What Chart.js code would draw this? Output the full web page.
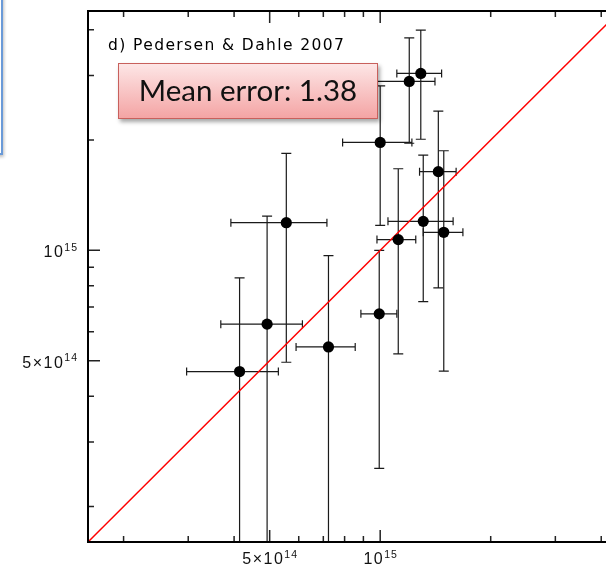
<!DOCTYPE html>
<html>
<head>
<meta charset="utf-8">
<script src="https://cdn.jsdelivr.net/npm/chart.js@4.4.1/dist/chart.umd.min.js"></script>
<style>
  html, body { margin: 0; padding: 0; background: #fff; overflow: hidden; }
  #wrap { position: relative; width: 606px; height: 568px; overflow: hidden; }
  #c { position: absolute; left: 0; top: 0; }
  #bluebox { position: absolute; left: -61px; top: -10px; width: 60px; height: 161px;
    border: 2px solid #6a9ad8; background: #fff; box-shadow: 1px 2px 3px rgba(0,0,0,0.25); }
  #title { position: absolute; left: 108px; top: 36px; font-family: "DejaVu Sans", sans-serif;
    font-size: 15.5px; line-height: 18px; letter-spacing: 1.4px; color: #000; white-space: nowrap; }
  #callout { position: absolute; left: 118px; top: 63px; width: 260px; height: 56px; box-sizing: border-box;
    border: 1.5px solid #c8605c; background: linear-gradient(#fde6e6, #f4a4a4);
    box-shadow: 2px 3px 4px rgba(0,0,0,0.35);
    font-family: "Lato", "Open Sans", sans-serif; font-size: 29.5px; color: #111;
    text-align: center; line-height: 52px; white-space: nowrap; }
</style>
</head>
<body>
<div id="wrap">
  <canvas id="c" width="640" height="568"></canvas>
  <div id="bluebox"></div>
  <div id="title">d) Pedersen &amp; Dahle 2007</div>
  <div id="callout">Mean error: 1.38</div>
</div>
<script>
// ---- data ----
const axisMin = 1.6e14;
const axisMax = 4.5e15;
const tickValues = [2e14, 3e14, 4e14, 5e14, 6e14, 7e14, 8e14, 9e14, 1e15, 2e15, 3e15, 4e15];
const tickLabelValues = [5e14, 1e15];
const tickLabelBase = ['5×10', '10'];
const tickLabelExp = ['14', '15'];

const xVal = [4.14e14, 4.92e14, 5.55e14, 7.23e14, 1.29e15, 1.20e15, 1.00e15, 1.44e15, 1.31e15, 1.49e15, 1.12e15, 9.94e14];
const xLo  = [2.97e14, 3.68e14, 3.92e14, 5.90e14, 1.11e15, 9.40e14, 7.90e14, 1.28e15, 1.05e15, 1.31e15, 9.80e14, 8.86e14];
const xHi  = [5.28e14, 6.14e14, 7.16e14, 8.55e14, 1.47e15, 1.41e15, 1.22e15, 1.61e15, 1.58e15, 1.68e15, 1.25e15, 1.11e15];
const yVal = [4.67e14, 6.29e14, 1.19e15, 5.45e14, 3.04e15, 2.89e15, 1.97e15, 1.64e15, 1.20e15, 1.12e15, 1.07e15, 6.71e14];
const yLo  = [1.2e14, 1.2e14, 4.95e14, 1.2e14, 2.01e15, 1.96e15, 1.17e15, 7.90e14, 7.25e14, 4.68e14, 5.22e14, 2.54e14];
const yHi  = [8.41e14, 1.24e15, 1.84e15, 9.67e14, 3.99e15, 3.80e15, 2.81e15, 2.40e15, 1.82e15, 1.87e15, 1.67e15, 1.00e15];

const points = xVal.map((v, i) => ({ x: v, y: yVal[i] }));
const oneToOne = [{ x: axisMin, y: axisMin }, { x: axisMax, y: axisMax }];

function labelIndex(v) {
  return tickLabelValues.findIndex(t => Math.abs(t - v) / t < 1e-9);
}

const BASE_FONT = '16px "Liberation Sans", Arial, sans-serif';
const SUP_FONT = '10.5px "Liberation Sans", Arial, sans-serif';
const BASE_SP = 1.5, SUP_SP = 1.0, SUP_GAP = 1.5, SUP_RISE = 6.5;

function spacedWidth(ctx, text, font, sp) {
  ctx.font = font;
  let w = 0;
  for (const ch of text) w += ctx.measureText(ch).width + sp;
  return w - sp;
}
function drawSpaced(ctx, text, font, sp, x, y) {
  ctx.font = font;
  for (const ch of text) { ctx.fillText(ch, x, y); x += ctx.measureText(ch).width + sp; }
  return x - sp;
}
function drawPowerLabel(ctx, k, x, baseline, align) {
  const wb = spacedWidth(ctx, tickLabelBase[k], BASE_FONT, BASE_SP);
  const ws = spacedWidth(ctx, tickLabelExp[k], SUP_FONT, SUP_SP);
  const total = wb + SUP_GAP + ws;
  let x0 = align === 'right' ? x - total : x - total / 2;
  ctx.textAlign = 'left';
  ctx.textBaseline = 'alphabetic';
  const xe = drawSpaced(ctx, tickLabelBase[k], BASE_FONT, BASE_SP, x0, baseline);
  drawSpaced(ctx, tickLabelExp[k], SUP_FONT, SUP_SP, xe + SUP_GAP, baseline - SUP_RISE);
}

const errorBars = {
  id: 'errorBars',
  beforeDatasetsDraw(chart) {
    const { ctx, chartArea: a, scales: { x, y } } = chart;
    ctx.save();
    ctx.beginPath();
    ctx.rect(a.left, a.top, a.right - a.left, a.bottom - a.top);
    ctx.clip();
    ctx.strokeStyle = '#1a1a1a';
    ctx.lineWidth = 1.2;
    for (let i = 0; i < xVal.length; i++) {
      const px = x.getPixelForValue(xVal[i]);
      const py = y.getPixelForValue(yVal[i]);
      const x0 = x.getPixelForValue(xLo[i]);
      const x1 = x.getPixelForValue(xHi[i]);
      const y0 = y.getPixelForValue(yLo[i]);
      const y1 = y.getPixelForValue(yHi[i]);
      ctx.beginPath();
      ctx.moveTo(px, y0); ctx.lineTo(px, y1);
      ctx.moveTo(px - 5, y0); ctx.lineTo(px + 5, y0);
      ctx.moveTo(px - 5, y1); ctx.lineTo(px + 5, y1);
      ctx.moveTo(x0, py); ctx.lineTo(x1, py);
      ctx.moveTo(x0, py - 4); ctx.lineTo(x0, py + 4);
      ctx.moveTo(x1, py - 4); ctx.lineTo(x1, py + 4);
      ctx.stroke();
    }
    ctx.restore();
  }
};

const frame = {
  id: 'frame',
  afterDraw(chart) {
    const { ctx, chartArea: a, scales: { x, y } } = chart;
    ctx.save();
    ctx.strokeStyle = '#222';
    ctx.lineWidth = 1.5;
    ctx.beginPath();
    x.ticks.forEach(t => {
      const p = x.getPixelForValue(t.value);
      const len = labelIndex(t.value) >= 0 ? 12 : 6;
      ctx.moveTo(p, a.bottom); ctx.lineTo(p, a.bottom - len);
      ctx.moveTo(p, a.top); ctx.lineTo(p, a.top + len);
    });
    y.ticks.forEach(t => {
      const p = y.getPixelForValue(t.value);
      const len = labelIndex(t.value) >= 0 ? 12 : 6;
      ctx.moveTo(a.left, p); ctx.lineTo(a.left + len, p);
      ctx.moveTo(a.right, p); ctx.lineTo(a.right - len, p);
    });
    ctx.stroke();
    ctx.strokeStyle = '#000';
    ctx.lineWidth = 2;
    ctx.strokeRect(a.left, a.top, a.right - a.left, a.bottom - a.top);
    // tick labels, placed by the scales
    ctx.fillStyle = '#111';
    x.ticks.forEach(t => {
      const k = labelIndex(t.value);
      if (k >= 0) drawPowerLabel(ctx, k, x.getPixelForValue(t.value), a.bottom + 22, 'center');
    });
    y.ticks.forEach(t => {
      const k = labelIndex(t.value);
      if (k >= 0) drawPowerLabel(ctx, k, a.left - 11, y.getPixelForValue(t.value) + 7, 'right');
    });
    ctx.restore();
  }
};

new Chart(document.getElementById('c'), {
  type: 'scatter',
  data: {
    datasets: [
      {
        label: 'clusters',
        data: points,
        backgroundColor: '#000',
        borderColor: '#000',
        borderWidth: 0,
        pointRadius: 5.6,
        pointHoverRadius: 5.6,
        order: 0
      },
      {
        label: 'one-to-one',
        data: oneToOne,
        showLine: true,
        borderColor: '#ff0000',
        borderWidth: 1.5,
        pointRadius: 0,
        fill: false,
        order: 1
      }
    ]
  },
  options: {
    responsive: false,
    animation: false,
    devicePixelRatio: 1,
    layout: { padding: { left: 0, right: 20, top: 11, bottom: 0 } },
    plugins: { legend: { display: false }, tooltip: { enabled: false } },
    scales: {
      x: {
        type: 'logarithmic',
        position: 'bottom',
        min: axisMin,
        max: axisMax,
        grid: { display: false, drawTicks: false },
        border: { display: false },
        afterBuildTicks: s => { s.ticks = tickValues.map(v => ({ value: v })); },
        afterFit: s => { s.height = 26; },
        ticks: { display: false, autoSkip: false }
      },
      y: {
        type: 'logarithmic',
        position: 'left',
        min: axisMin,
        max: axisMax,
        grid: { display: false, drawTicks: false },
        border: { display: false },
        afterBuildTicks: s => { s.ticks = tickValues.map(v => ({ value: v })); },
        afterFit: s => { s.width = 88; },
        ticks: { display: false, autoSkip: false }
      }
    }
  },
  plugins: [errorBars, frame]
});
</script>
</body>
</html>
